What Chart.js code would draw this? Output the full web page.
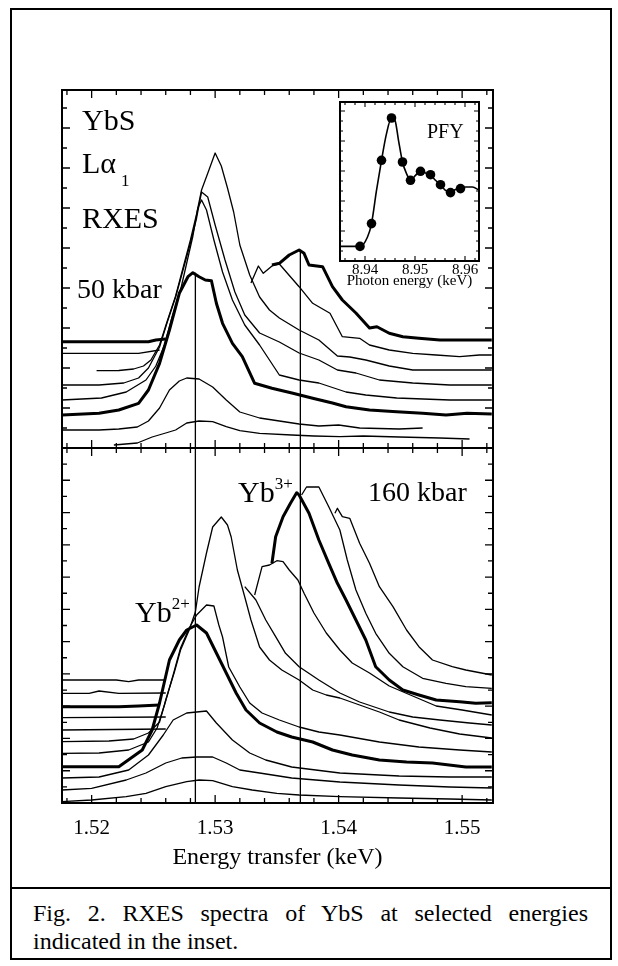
<!DOCTYPE html>
<html><head><meta charset="utf-8">
<script src="https://cdn.jsdelivr.net/npm/chart.js@4.4.1/dist/chart.umd.min.js"></script>
<style>
html,body{margin:0;padding:0;background:#fff;}
#page{position:relative;width:618px;height:966px;overflow:hidden;background:#fff;font-family:"Liberation Serif","Times New Roman",serif;color:#000;}
canvas{position:absolute;}
.t{position:absolute;white-space:nowrap;line-height:1;}
.cap{position:absolute;left:33px;width:555px;font-size:24px;line-height:28px;white-space:nowrap;}
</style></head><body>
<div id="page">
<div style="position:absolute;left:10px;top:8px;width:598px;height:948px;border:2px solid #000;"></div>
<div style="position:absolute;left:10px;top:887px;width:602px;height:2px;background:#000;"></div>
<canvas id="cTop" width="443" height="370" style="left:56px;top:84px;"></canvas>
<canvas id="cBot" width="443" height="438" style="left:56px;top:442px;"></canvas>
<canvas id="cIn" width="151" height="206" style="left:334px;top:96px;"></canvas>
<div class="t" style="left:82px;top:105px;font-size:30px;">YbS</div>
<div class="t" style="left:82px;top:148px;font-size:30px;">Lα<span style="font-size:17px;position:relative;top:13px;margin-left:5px;">1</span></div>
<div class="t" style="left:82px;top:203px;font-size:30px;">RXES</div>
<div class="t" style="left:77px;top:275px;font-size:28px;">50 kbar</div>
<div class="t" style="left:427px;top:121px;font-size:20px;">PFY</div>
<div class="t" style="left:238px;top:477px;font-size:30px;">Yb<span style="font-size:17px;position:relative;top:-13px;">3+</span></div>
<div class="t" style="left:135px;top:597px;font-size:30px;">Yb<span style="font-size:17px;position:relative;top:-13px;">2+</span></div>
<div class="t" style="left:368px;top:478px;font-size:28px;">160 kbar</div>
<div class="cap" style="top:899px;text-align:justify;text-align-last:justify;">Fig. 2. RXES spectra of YbS at selected energies</div>
<div class="cap" style="top:927px;">indicated in the inset.</div>
</div>
<script>
// ---------- axis / tick values ----------
const xRange = [1.5176, 1.5525];
const xTickLabels = [1.52, 1.53, 1.54, 1.55];
const peakLines = [1.5284, 1.5369];           // Yb2+ and Yb3+ markers
const topRange = [0, 358];
const botRange = [0, 355];
const insetXRange = [8.935, 8.9628];
const insetYRange = [0, 15.9];
const insetTickLabels = [8.94, 8.95, 8.96];

// ---------- 50 kbar spectra (top panel), bottom to top ----------
const k50_1 = [[1.5218,3],[1.5237,5],[1.5249,11],[1.5260,15],[1.5268,18],[1.5277,25],[1.5287,27],[1.5298,26.3],[1.5309,21.3],[1.5320,17.3],[1.5336,14.7],[1.5362,13],[1.5380,12],[1.5401,11.3],[1.5420,12],[1.5449,11],[1.5482,10],[1.5506,9]];
const k50_2 = [[1.5176,18],[1.5206,18],[1.5222,19],[1.5237,21],[1.5246,27],[1.5255,40],[1.5263,58],[1.5271,67],[1.5277,70],[1.5287,69],[1.5298,61],[1.5309,48],[1.5320,36],[1.5336,30],[1.5352,27],[1.5368,24],[1.5384,22],[1.5400,23],[1.5417,20],[1.5449,19],[1.5468,20]];
const k50_3 = [[1.5176,33],[1.5206,34.7],[1.5222,38],[1.5238,44.7],[1.5246,58],[1.5255,84.7],[1.5263,118],[1.5271,154.7],[1.5278,171.3],[1.5282,175.3],[1.5287,171.3],[1.5292,168],[1.5297,167.3],[1.5301,144.7],[1.5306,124.7],[1.5314,104.7],[1.5322,91.3],[1.5332,64.7],[1.5346,59.7],[1.5363,54.7],[1.5379,49.7],[1.5395,45],[1.5406,41.3],[1.5425,38],[1.5447,36.3],[1.5468,34.7],[1.5487,33],[1.5504,34.7],[1.5524,34]];
const k50_4 = [[1.5176,48],[1.5208,50],[1.5228,56],[1.5244,68],[1.5252,82],[1.5259,103],[1.5265,130],[1.5272,158],[1.5277,185],[1.5282,212],[1.5286,240],[1.5289,248],[1.5293,238],[1.5299,208],[1.5306,176],[1.5314,148],[1.5324,123],[1.5336,103],[1.5352,73],[1.5368,68],[1.5384,65],[1.5406,56],[1.5422,53],[1.5447,50],[1.5490,48],[1.5524,48]];
const k50_5 = [[1.5176,63],[1.5206,63],[1.5226,65],[1.5238,70],[1.5246,80],[1.5255,101],[1.5261,125],[1.5268,151],[1.5274,178],[1.5280,205],[1.5285,230],[1.5289,256],[1.5294,251],[1.5300,223],[1.5308,188],[1.5316,156],[1.5324,133],[1.5336,115],[1.5352,106],[1.5368,95],[1.5384,88],[1.5399,78],[1.5414,75],[1.5433,68],[1.5460,65],[1.5490,63],[1.5524,63]];
const k50_6 = [[1.5204,77.3],[1.5222,77.5],[1.5234,79],[1.5242,82],[1.5248,88],[1.5255,103],[1.5261,126],[1.5268,152],[1.5274,180],[1.5280,208],[1.5285,234],[1.5289,258],[1.5295,278],[1.5300,295],[1.5305,282],[1.5310,260],[1.5315,236],[1.5320,203],[1.5328,173],[1.5336,151],[1.5344,138],[1.5352,130],[1.5368,118],[1.5384,108],[1.5399,92],[1.5409,91],[1.5422,88],[1.5441,82],[1.5460,78],[1.5490,78],[1.5524,78]];
const k50_7 = [[1.5176,94.7],[1.5238,94.7],[1.5255,98],[1.5290,null],[1.5329,165],[1.5335,182],[1.5339,174.7],[1.5347,183],[1.5352,184],[1.5368,161.3],[1.5379,144.7],[1.5393,134.7],[1.5403,111.3],[1.5417,109.7],[1.5425,103],[1.5441,98],[1.5460,94.7],[1.5479,93],[1.5498,91.3],[1.5514,93],[1.5524,93]];
const k50_8 = [[1.5176,106.3],[1.5246,106.3],[1.5252,108],[1.5260,109],[1.5300,null],[1.5346,183],[1.5352,184.7],[1.5360,193],[1.5368,198],[1.5372,194.7],[1.5376,183],[1.5387,181.3],[1.5395,161.3],[1.5403,148],[1.5414,135],[1.5425,120],[1.5431,121.3],[1.5441,114.7],[1.5452,111.3],[1.5465,109.7],[1.5482,108],[1.5524,108]];
const k50_thick = [false,false,true,false,false,false,false,true];

// ---------- 160 kbar spectra (bottom panel), bottom to top ----------
const k160_1 = [[1.5176,1.3],[1.5200,3],[1.5228,6.3],[1.5244,9.7],[1.5260,16.3],[1.5277,21.3],[1.5287,23],[1.5298,22.3],[1.5314,16.3],[1.5330,13],[1.5350,9.7],[1.5368,8],[1.5401,6.3],[1.5449,5],[1.5490,4],[1.5524,3]];
const k160_2 = [[1.5176,13],[1.5200,14.7],[1.5228,23],[1.5244,30],[1.5260,40],[1.5273,45],[1.5285,46],[1.5298,46],[1.5309,40],[1.5320,33],[1.5336,30],[1.5362,25],[1.5401,21],[1.5449,18],[1.5490,16],[1.5524,15]];
const k160_3 = [[1.5176,25],[1.5206,26],[1.5230,33],[1.5246,48],[1.5258,68],[1.5266,83],[1.5277,90],[1.5293,92],[1.5301,80],[1.5314,63],[1.5328,50],[1.5341,43],[1.5362,36],[1.5401,30],[1.5449,27],[1.5490,26],[1.5524,26]];
const k160_4 = [[1.5176,36.3],[1.5222,36.3],[1.5241,53],[1.5249,73],[1.5255,100],[1.5263,143],[1.5271,163],[1.5277,173],[1.5285,178],[1.5293,170],[1.5301,150],[1.5309,130],[1.5317,110],[1.5325,93],[1.5336,80],[1.5350,71],[1.5362,66],[1.5379,61],[1.5395,53],[1.5411,48],[1.5433,43],[1.5455,41],[1.5476,40],[1.5503,36],[1.5524,36]];
const k160_5 = [[1.5176,49.7],[1.5206,50],[1.5230,53],[1.5246,61],[1.5253,75],[1.5259,98],[1.5266,128],[1.5272,155],[1.5279,175],[1.5285,188],[1.5293,198],[1.5299,197],[1.5303,178],[1.5306,166],[1.5311,136],[1.5320,116],[1.5328,100],[1.5338,90],[1.5352,83],[1.5368,76],[1.5384,71],[1.5401,68],[1.5433,61],[1.5465,56],[1.5498,53],[1.5524,51]];
const k160_6 = [[1.5176,61.3],[1.5214,62],[1.5234,64],[1.5246,70],[1.5255,81],[1.5260,103],[1.5267,131],[1.5272,153],[1.5279,173],[1.5284,191],[1.5287,216],[1.5293,250],[1.5298,276],[1.5305,286],[1.5310,278],[1.5313,266],[1.5318,233],[1.5324,206],[1.5329,183],[1.5336,156],[1.5344,143],[1.5354,133],[1.5368,123],[1.5379,113],[1.5390,108],[1.5401,105],[1.5417,98],[1.5433,91],[1.5449,83],[1.5474,75],[1.5498,69],[1.5524,65]];
const k160_7 = [[1.5176,73],[1.5260,74],[1.5290,null],[1.5324,216.3],[1.5333,203],[1.5341,183],[1.5349,166.3],[1.5357,149.7],[1.5368,136.3],[1.5384,123],[1.5401,110],[1.5417,101],[1.5441,91],[1.5460,86],[1.5482,83],[1.5506,80],[1.5524,78]];
const k160_8 = [[1.5176,85.3],[1.5260,86],[1.5300,null],[1.5332,208],[1.5338,236.3],[1.5344,238],[1.5350,242.3],[1.5355,241.3],[1.5360,233],[1.5367,223],[1.5372,209.7],[1.5380,190],[1.5390,170],[1.5401,153],[1.5411,140],[1.5425,130],[1.5441,117],[1.5460,107],[1.5479,97],[1.5500,93],[1.5524,88]];
const k160_9 = [[1.5176,96.3],[1.5222,96.3],[1.5238,97],[1.5255,98],[1.5300,null],[1.5346,239.7],[1.5349,266.3],[1.5355,286.3],[1.5361,299.7],[1.5366,310.3],[1.5368,308],[1.5376,289.7],[1.5384,263],[1.5392,239.7],[1.5399,219.7],[1.5406,203],[1.5414,183],[1.5422,163],[1.5430,136.3],[1.5441,123],[1.5452,113],[1.5465,108],[1.5479,103],[1.5498,101.3],[1.5511,99.7],[1.5524,100.3]];
const k160_10 = [[1.5176,109.7],[1.5198,109.7],[1.5206,112],[1.5222,109.7],[1.5260,110],[1.5320,null],[1.5370,308],[1.5374,316],[1.5384,316],[1.5392,296.3],[1.5401,273],[1.5407,243],[1.5414,213],[1.5422,189.7],[1.5430,169.7],[1.5441,149.7],[1.5452,136.3],[1.5468,124.7],[1.5487,119.7],[1.5503,116.3],[1.5524,114.7]];
const k160_11 = [[1.5176,123],[1.5220,123],[1.5230,121.3],[1.5238,123],[1.5260,123],[1.5330,null],[1.5397,289.7],[1.5399,294.7],[1.5403,286.3],[1.5409,284.7],[1.5417,259.7],[1.5425,239.7],[1.5433,216.3],[1.5444,196.3],[1.5455,173],[1.5465,156.3],[1.5476,143],[1.5492,136.3],[1.5503,133],[1.5524,128]];
const k160_thick = [false,false,false,true,false,false,false,false,true,false,false];

// ---------- PFY inset ----------
const pfyCurve = [[8.935,1.46],[8.939,1.46],[8.9405,2.4],[8.9413,3.74],[8.9423,7.07],[8.9433,10.07],[8.9443,12.74],[8.9453,14.3],[8.9460,14.07],[8.9467,12.07],[8.9475,9.9],[8.9483,8.74],[8.9491,8.07],[8.9501,8.57],[8.9511,8.97],[8.9521,8.8],[8.9531,8.63],[8.9541,8.07],[8.9551,7.63],[8.9561,7.07],[8.9571,6.84],[8.9581,7.14],[8.9591,7.24],[8.9601,7.4],[8.9615,7.4],[8.9628,7.07]];
const pfyPoints = [[8.939,1.46],[8.9413,3.74],[8.9433,10.07],[8.9453,14.3],[8.9475,9.9],[8.9491,8.07],[8.9511,8.97],[8.9531,8.63],[8.9551,7.63],[8.9571,6.84],[8.9591,7.24]];

// ---------- helpers ----------
const FONT = '"Liberation Serif","Times New Roman",serif';
const xy = a => a.map(([x, y]) => ({x, y}));
function tickList(from, to, step, majorEvery) {
  const out = [];
  const n = Math.round((to - from) / step);
  for (let i = 0; i <= n; i++) out.push([from + i * step, majorEvery ? (i % majorEvery === 0) : false]);
  return out;
}
const mainXTicks = [];
for (let k = 759; k <= 776; k++) mainXTicks.push([k * 0.002, k % 5 === 0]);
const insetXTicks = [];
for (let k = 4468; k <= 4481; k++) insetXTicks.push([k * 0.002, k % 5 === 0]);

const framePlugin = {
  id: 'frame',
  afterDatasetsDraw(chart, args, o) {
    const {ctx, chartArea: a} = chart;
    const sx = chart.scales.x, sy = chart.scales.y;
    ctx.save();
    ctx.strokeStyle = '#000';
    ctx.lineWidth = o.tickWidth;
    ctx.beginPath();
    o.xTicks.forEach(([v, maj]) => {
      const p = sx.getPixelForValue(v);
      if (p < a.left + 1 || p > a.right - 1) return;
      const L = maj ? o.major : o.minor;
      ctx.moveTo(p, a.top); ctx.lineTo(p, a.top + L);
      ctx.moveTo(p, a.bottom); ctx.lineTo(p, a.bottom - L);
    });
    o.yTicks.forEach(([v, maj]) => {
      const p = sy.getPixelForValue(v);
      if (p < a.top + 1 || p > a.bottom - 1) return;
      const L = maj ? o.major : o.minor;
      ctx.moveTo(a.left, p); ctx.lineTo(a.left + L, p);
      ctx.moveTo(a.right, p); ctx.lineTo(a.right - L, p);
    });
    ctx.stroke();
    ctx.lineWidth = o.frameWidth;
    ctx.strokeRect(a.left, a.top, a.right - a.left, a.bottom - a.top);
    ctx.restore();
  }
};

function curveSets(list, thick) {
  return list.map((c, i) => ({
    data: xy(c), borderColor: '#000', borderWidth: thick[i] ? 3 : 1.3,
    pointRadius: 0, tension: 0, spanGaps: false, fill: false, borderJoinStyle: 'round'
  }));
}
function vlineSets(yTopValues, yBottom) {
  return peakLines.map((x, i) => ({
    data: [{x, y: yTopValues[i]}, {x, y: yBottom}], borderColor: '#000', borderWidth: 1.3,
    pointRadius: 0, fill: false
  }));
}
const common = {
  responsive: false, animation: false, devicePixelRatio: 1,
  plugins: {legend: {display: false}, tooltip: {enabled: false}},
  elements: {line: {borderCapStyle: 'butt'}}
};

// ---------- top panel (50 kbar) ----------
const topCurves = [k50_1, k50_2, k50_3, k50_4, k50_5, k50_6, k50_7, k50_8];
new Chart(document.getElementById('cTop'), {
  type: 'line',
  data: {datasets: [...vlineSets([175.3, 198], 0), ...curveSets(topCurves, k50_thick)]},
  options: Object.assign({}, common, {
    layout: {padding: 6},
    scales: {
      x: {type: 'linear', min: xRange[0], max: xRange[1], display: false},
      y: {type: 'linear', min: topRange[0], max: topRange[1], display: false}
    },
    plugins: Object.assign({}, common.plugins, {
      frame: {xTicks: mainXTicks, yTicks: tickList(0, 340, 20, 2), major: 8, minor: 5, tickWidth: 1.3, frameWidth: 2}
    })
  }),
  plugins: [framePlugin]
});

// ---------- bottom panel (160 kbar) ----------
const botCurves = [k160_1, k160_2, k160_3, k160_4, k160_5, k160_6, k160_7, k160_8, k160_9, k160_10, k160_11];
new Chart(document.getElementById('cBot'), {
  type: 'line',
  data: {datasets: [...vlineSets([botRange[1], botRange[1]], 0), ...curveSets(botCurves, k160_thick)]},
  options: Object.assign({}, common, {
    layout: {padding: {left: 6, right: 6, top: 6, bottom: 0}},
    scales: {
      x: {
        type: 'linear', min: xRange[0], max: xRange[1], position: 'bottom',
        grid: {display: false, drawTicks: false}, border: {display: false},
        afterBuildTicks: s => { s.ticks = xTickLabels.map(v => ({value: v})); },
        afterFit: s => { s.height = 77; },
        ticks: {color: '#000', font: {family: FONT, size: 21}, padding: 13, maxRotation: 0, autoSkip: false,
                callback: v => Number(v).toFixed(2)},
        title: {display: true, text: 'Energy transfer (keV)', color: '#000', font: {family: FONT, size: 24}, padding: {top: 0, bottom: 8}}
      },
      y: {type: 'linear', min: botRange[0], max: botRange[1], display: false}
    },
    plugins: Object.assign({}, common.plugins, {
      frame: {xTicks: mainXTicks, yTicks: tickList(0, 355, 355 / 22, 2), major: 8, minor: 5, tickWidth: 1.3, frameWidth: 2}
    })
  }),
  plugins: [framePlugin]
});

// ---------- PFY inset ----------
new Chart(document.getElementById('cIn'), {
  type: 'line',
  data: {datasets: [
    {data: xy(pfyCurve), borderColor: '#000', borderWidth: 1.6, pointRadius: 0, cubicInterpolationMode: 'monotone', fill: false},
    {data: xy(pfyPoints), showLine: false, pointRadius: 4.8, pointBackgroundColor: '#000', pointBorderColor: '#000', pointBorderWidth: 0}
  ]},
  options: Object.assign({}, common, {
    layout: {padding: {left: 6, right: 6, top: 6, bottom: 0}},
    scales: {
      x: {
        type: 'linear', min: insetXRange[0], max: insetXRange[1], position: 'bottom',
        grid: {display: false, drawTicks: false}, border: {display: false},
        afterBuildTicks: s => { s.ticks = insetTickLabels.map(v => ({value: v})); },
        afterFit: s => { s.height = 41; },
        ticks: {color: '#000', font: {family: FONT, size: 15, lineHeight: 1}, padding: 2, maxRotation: 0, autoSkip: false,
                callback: v => Number(v).toFixed(2)},
        title: {display: true, text: 'Photon energy (keV)', color: '#000', font: {family: FONT, size: 15, lineHeight: 1}, padding: {top: 0, bottom: 13}}
      },
      y: {type: 'linear', min: insetYRange[0], max: insetYRange[1], display: false}
    },
    plugins: Object.assign({}, common.plugins, {
      frame: {xTicks: insetXTicks, yTicks: tickList(0, 15, 1, 3), major: 5, minor: 3, tickWidth: 1.1, frameWidth: 2}
    })
  }),
  plugins: [framePlugin]
});
</script>
</body></html>
